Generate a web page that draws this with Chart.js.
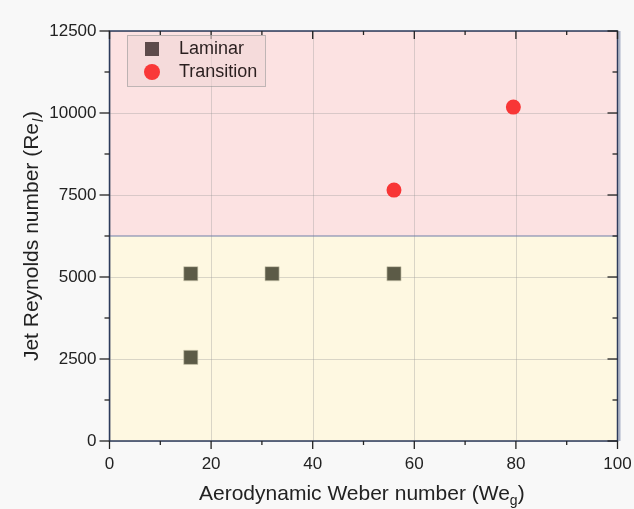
<!DOCTYPE html>
<html>
<head>
<meta charset="utf-8">
<script src="https://cdn.jsdelivr.net/npm/chart.js@4"></script>
<style>
  html, body { margin: 0; padding: 0; background: #f8f8f8; }
  #wrap { width: 634px; height: 509px; }
</style>
</head>
<body>
<div id="wrap"><canvas id="regimeChart" width="634" height="509"></canvas></div>
<script>
// Data
const laminarWe = [16, 16, 32, 56];
const laminarRe = [5100, 2550, 5100, 5100];
const transitionWe = [56, 79.5];
const transitionRe = [7650, 10180];
const xTicks = [0, 20, 40, 60, 80, 100];
const yTicks = [0, 2500, 5000, 7500, 10000, 12500];
const regimeBoundary = 6250;

const FONT = "'Liberation Sans', Arial, sans-serif";
const FRAME = '#2c3b5c';

function toPoints(xs, ys) {
    return xs.map((x, i) => ({ x: x, y: ys[i] }));
}

// Background bands, frame, ticks, titles and legend
const decor = {
    id: 'decor',
    beforeDatasetsDraw(chart) {
        const { ctx, chartArea: a, scales: { x, y } } = chart;
        const yb = y.getPixelForValue(regimeBoundary);
        ctx.save();
        ctx.fillStyle = 'rgba(253, 222, 222, 0.85)';
        ctx.fillRect(a.left, a.top, a.right - a.left, yb - a.top);
        ctx.fillStyle = 'rgba(254, 247, 222, 0.9)';
        ctx.fillRect(a.left, yb, a.right - a.left, a.bottom - yb);
        // gridlines on top of bands
        ctx.strokeStyle = 'rgba(150, 150, 150, 0.35)';
        ctx.lineWidth = 1;
        xTicks.forEach(v => {
            const px = Math.round(x.getPixelForValue(v)) + 0.5;
            ctx.beginPath(); ctx.moveTo(px, a.top); ctx.lineTo(px, a.bottom); ctx.stroke();
        });
        yTicks.forEach(v => {
            const py = Math.round(y.getPixelForValue(v)) + 0.5;
            ctx.beginPath(); ctx.moveTo(a.left, py); ctx.lineTo(a.right, py); ctx.stroke();
        });
        ctx.strokeStyle = '#6f7fa8';
        ctx.lineWidth = 1.2;
        ctx.beginPath(); ctx.moveTo(a.left, yb); ctx.lineTo(a.right, yb); ctx.stroke();
        ctx.restore();
    },
    afterDraw(chart) {
        const { ctx, chartArea: a, scales: { x, y } } = chart;
        ctx.save();
        // frame
        ctx.strokeStyle = FRAME;
        ctx.lineWidth = 1.5;
        ctx.strokeRect(a.left, a.top, a.right - a.left, a.bottom - a.top);
        ctx.strokeStyle = 'rgba(120, 135, 170, 0.6)';
        ctx.lineWidth = 2;
        ctx.beginPath(); ctx.moveTo(a.right + 2, a.top); ctx.lineTo(a.right + 2, a.bottom); ctx.stroke();

        // ticks
        ctx.strokeStyle = '#222';
        ctx.lineWidth = 1.3;
        for (let v = 0; v <= 100; v += 10) {
            const px = x.getPixelForValue(v);
            const len = v % 20 === 0 ? 8 : 4;
            ctx.beginPath(); ctx.moveTo(px, a.bottom); ctx.lineTo(px, a.bottom + len); ctx.stroke();
            ctx.beginPath(); ctx.moveTo(px, a.top); ctx.lineTo(px, a.top + len); ctx.stroke();
        }
        for (let v = 0; v <= 12500; v += 1250) {
            const py = y.getPixelForValue(v);
            const len = v % 2500 === 0 ? 10 : 5;
            ctx.beginPath(); ctx.moveTo(a.left, py); ctx.lineTo(a.left - len, py); ctx.stroke();
            ctx.beginPath(); ctx.moveTo(a.right, py); ctx.lineTo(a.right - len, py); ctx.stroke();
        }

        // axis titles with subscripts
        ctx.fillStyle = '#222';
        ctx.textBaseline = 'alphabetic';
        const main = '21px ' + FONT;
        const sub = '14px ' + FONT;
        const subIt = 'italic 14px ' + FONT;

        ctx.font = main;
        const xA = 'Aerodynamic Weber number (We';
        ctx.font = sub; const wG = ctx.measureText('g').width;
        ctx.font = main;
        const wA = ctx.measureText(xA).width, wP = ctx.measureText(')').width;
        let tx = 199;
        const ty = 500;
        ctx.textAlign = 'left';
        ctx.fillText(xA, tx, ty);
        ctx.font = sub; ctx.fillText('g', tx + wA, ty + 5);
        ctx.font = main; ctx.fillText(')', tx + wA + wG, ty);

        ctx.save();
        ctx.translate(38, 236);
        ctx.rotate(-Math.PI / 2);
        const yA = 'Jet Reynolds number (Re';
        ctx.font = subIt; const wL = ctx.measureText('l').width + 2;
        ctx.font = main;
        const wY = ctx.measureText(yA).width;
        const yTotal = wY + wL + wP;
        tx = -yTotal / 2;
        ctx.fillText(yA, tx, 0);
        ctx.font = subIt; ctx.fillText('l', tx + wY + 1, 5);
        ctx.font = main; ctx.fillText(')', tx + wY + wL, 0);
        ctx.restore();

        // legend box
        const lx = 127, ly = 35, lw = 138, lh = 51;
        ctx.fillStyle = 'rgba(240, 214, 214, 0.6)';
        ctx.fillRect(lx, ly, lw, lh);
        ctx.strokeStyle = 'rgba(150, 150, 150, 0.6)';
        ctx.lineWidth = 1;
        ctx.strokeRect(lx + 0.5, ly + 0.5, lw, lh);
        ctx.fillStyle = '#5d4b4b';
        ctx.fillRect(lx + 18, ly + 7, 14, 14);
        ctx.fillStyle = '#f93838';
        ctx.beginPath(); ctx.arc(lx + 25, ly + 37, 8, 0, Math.PI * 2); ctx.fill();
        ctx.fillStyle = '#2a1f1f';
        ctx.font = '18px ' + FONT;
        ctx.textBaseline = 'middle';
        ctx.fillText('Laminar', lx + 52, ly + 14);
        ctx.fillText('Transition', lx + 52, ly + 37);
        ctx.restore();
    }
};

const ctx = document.getElementById('regimeChart').getContext('2d');
new Chart(ctx, {
    type: 'scatter',
    data: {
        datasets: [{
            label: 'Laminar',
            data: toPoints(laminarWe, laminarRe),
            pointStyle: 'rect',
            pointRadius: 10,
            pointHoverRadius: 10,
            backgroundColor: '#5c5b47',
            borderColor: 'rgba(210, 205, 180, 0.8)',
            borderWidth: 0.8
        }, {
            label: 'Transition',
            data: toPoints(transitionWe, transitionRe),
            pointStyle: 'circle',
            pointRadius: 7.5,
            pointHoverRadius: 7.5,
            backgroundColor: '#f83636',
            borderColor: '#f83636',
            borderWidth: 0
        }]
    },
    options: {
        responsive: false,
        animation: false,
        layout: { padding: { top: 31, right: 16.5, left: 0, bottom: 0 } },
        plugins: {
            legend: { display: false },
            tooltip: { enabled: false }
        },
        scales: {
            x: {
                type: 'linear',
                min: 0,
                max: 100,
                afterBuildTicks: s => { s.ticks = xTicks.map(v => ({ value: v })); },
                afterFit: s => { s.height = 68; s.paddingLeft = 0; s.paddingRight = 0; },
                grid: { display: false, drawTicks: false },
                border: { display: false },
                ticks: { padding: 13, color: '#222', font: { family: FONT, size: 17 },
                         callback: v => String(v) },
                title: { display: false }
            },
            y: {
                type: 'linear',
                min: 0,
                max: 12500,
                afterBuildTicks: s => { s.ticks = yTicks.map(v => ({ value: v })); },
                afterFit: s => { s.width = 109.5; s.paddingTop = 0; s.paddingBottom = 0; },
                grid: { display: false, drawTicks: false },
                border: { display: false },
                ticks: { padding: 13, color: '#222', font: { family: FONT, size: 17 },
                         callback: v => String(v) },
                title: { display: false }
            }
        }
    },
    plugins: [decor]
});
</script>
</body>
</html>
